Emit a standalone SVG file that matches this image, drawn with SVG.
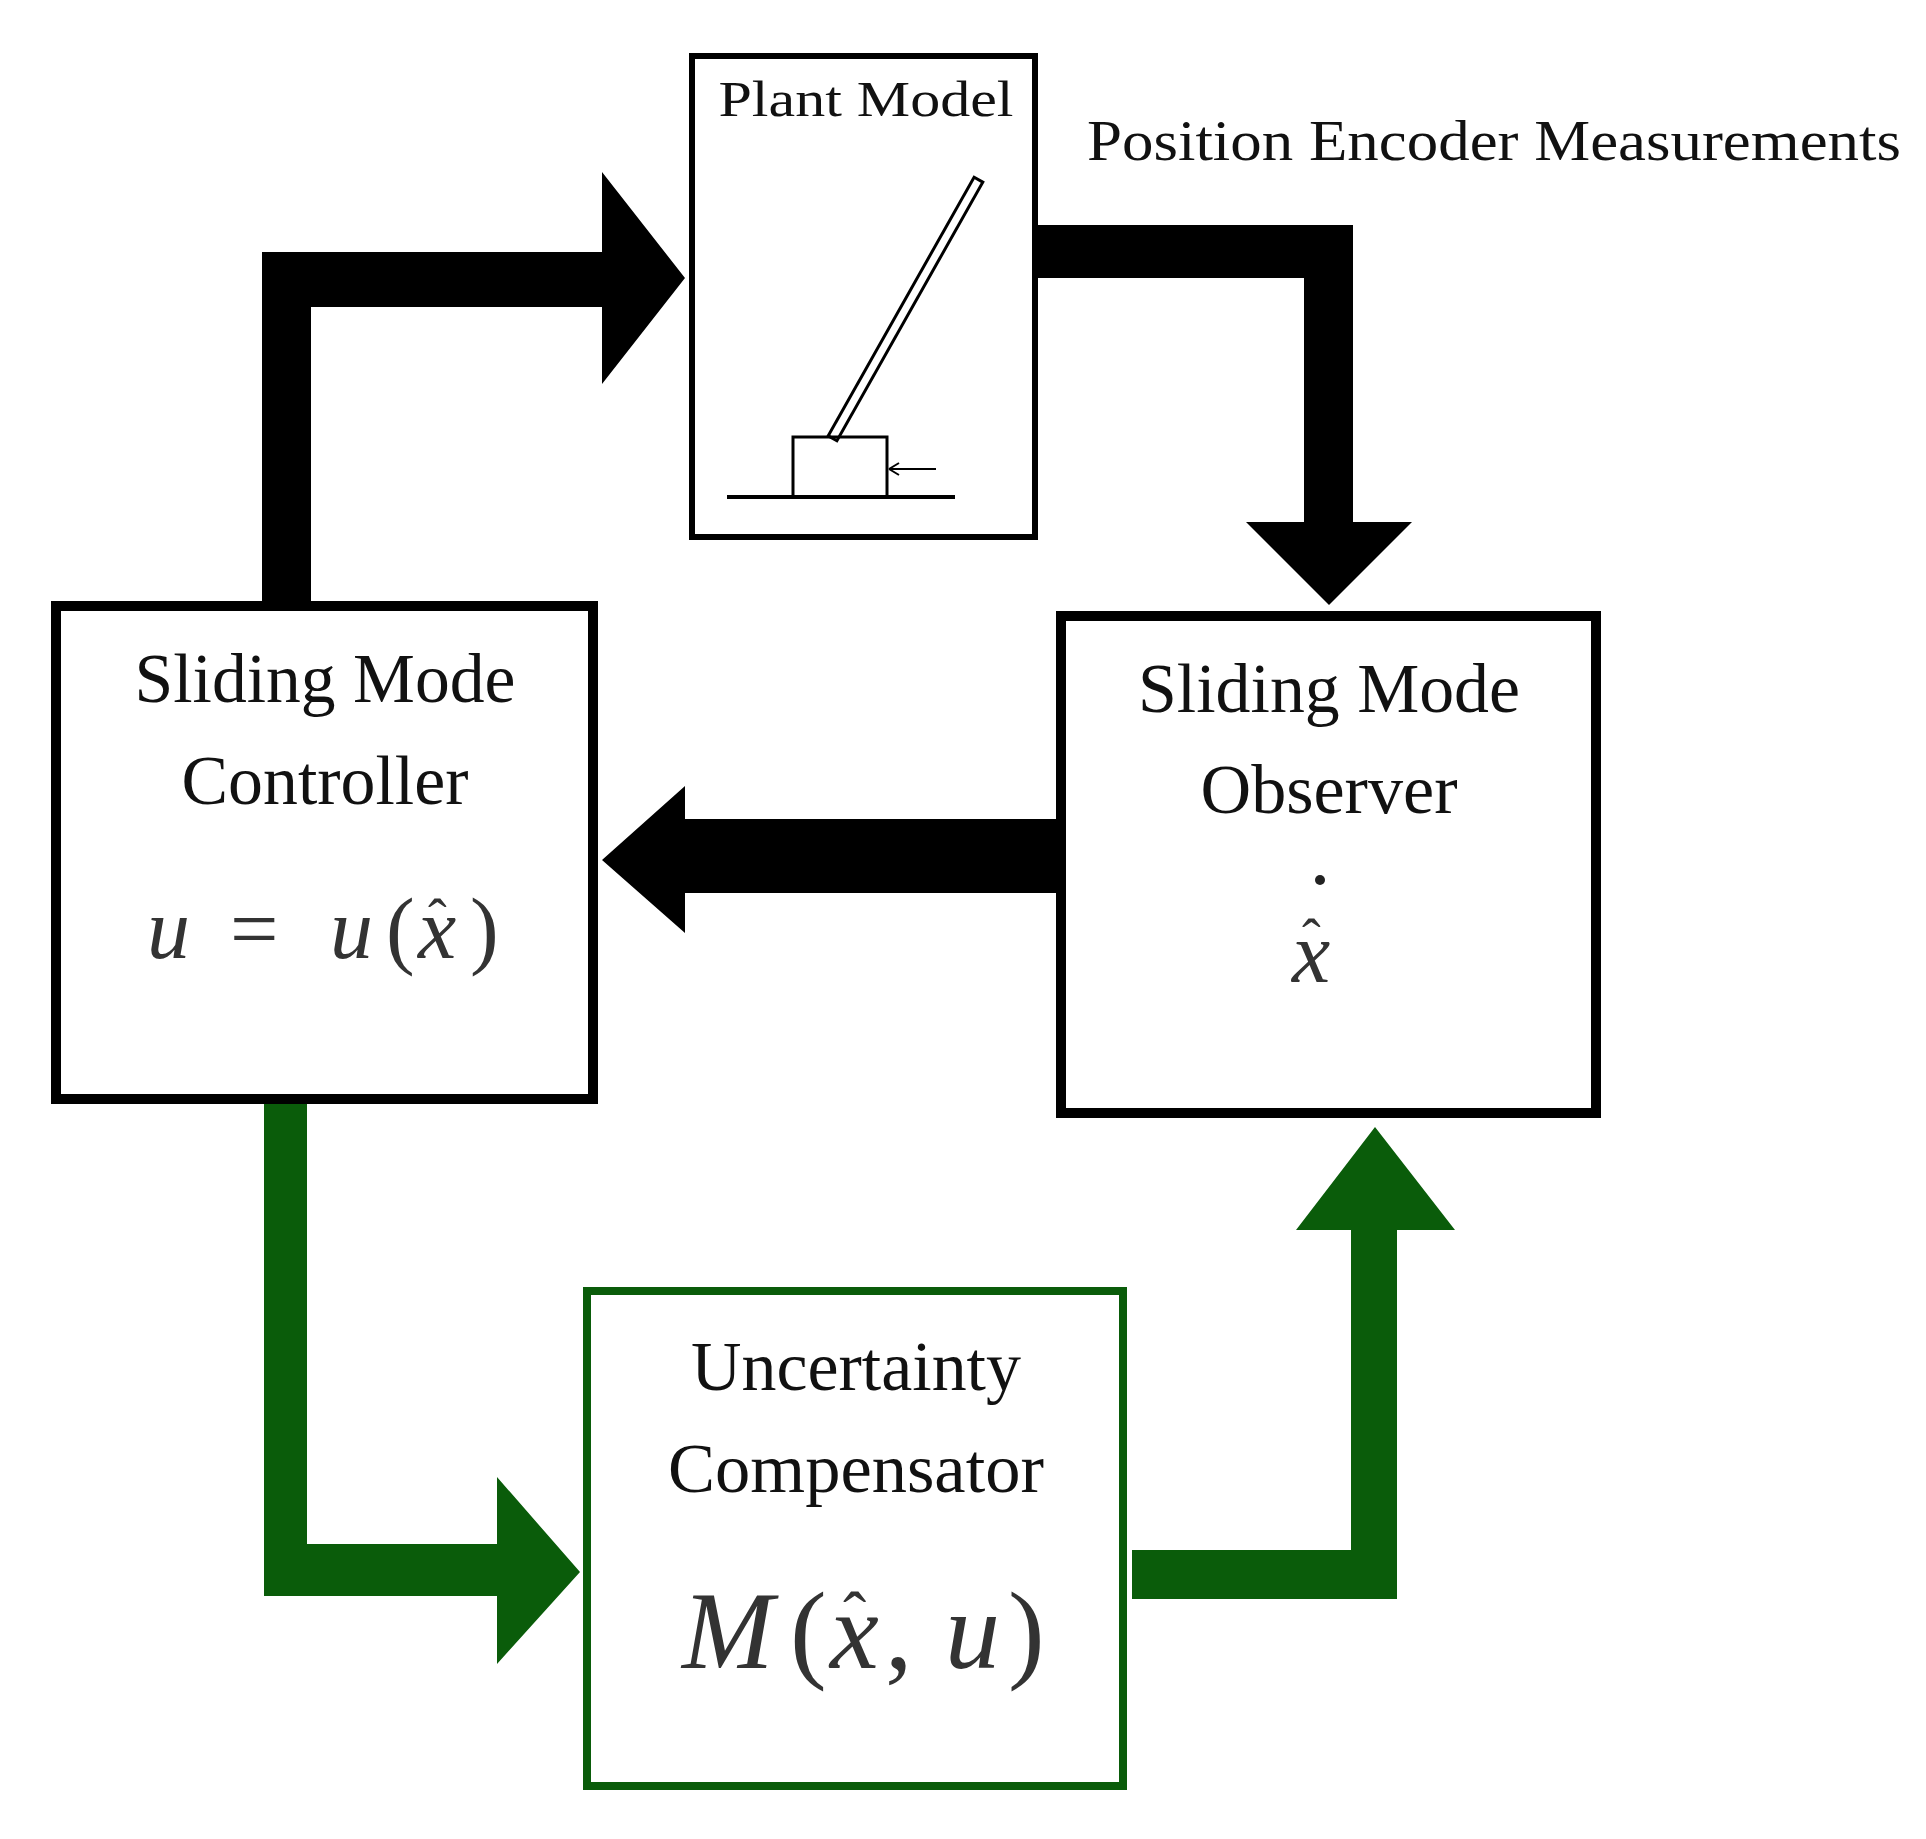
<svg xmlns="http://www.w3.org/2000/svg" width="1926" height="1839" viewBox="0 0 1926 1839">
<style>
.lbl{font-family:"Liberation Serif",serif;fill:#111;text-anchor:middle}
.math{font-family:"Liberation Serif",serif;font-style:italic;fill:#333}
.up{font-family:"Liberation Serif",serif;fill:#333}
.box{fill:#fff;stroke:#000}
.gbox{fill:#fff;stroke:#0a5c0a}
</style>
<rect width="1926" height="1839" fill="#fff"/>
<g id="connectors">
<path d="M262,602 V252 H602 V172 L685,278 L602,384 V307 H311 V602 Z" fill="#000"/>
<path d="M1038,225 H1353 V522 H1412 L1329,605 L1246,522 H1304 V278 H1038 Z" fill="#000"/>
<path d="M1056,819 V893 H685 V933 L602,860 L685,786 V819 Z" fill="#000"/>
<path d="M264,1103 H307 V1544 H497 V1477 L580,1572 L497,1664 V1596 H264 Z" fill="#0a5c0a"/>
<path d="M1132,1550 H1351 V1230 H1296 L1375,1127 L1455,1230 H1397 V1599 H1132 Z" fill="#0a5c0a"/>
</g>
<g id="plant">
<rect class="box" x="692" y="56" width="343" height="481" stroke-width="6"/>
<text class="lbl" x="866" y="116" font-size="50" textLength="295" lengthAdjust="spacingAndGlyphs">Plant Model</text>
<line x1="835" y1="434" x2="976" y2="184" stroke="#000" stroke-width="13" stroke-linecap="square"/>
<line x1="835" y1="434" x2="976" y2="184" stroke="#fff" stroke-width="7" stroke-linecap="square"/>
<rect x="793" y="437" width="94" height="60" fill="none" stroke="#000" stroke-width="3"/>
<line x1="727" y1="497" x2="955" y2="497" stroke="#000" stroke-width="4"/>
<line x1="889" y1="469" x2="936" y2="469" stroke="#000" stroke-width="2"/>
<path d="M889,469 l10,-6 M889,469 l10,6" stroke="#000" stroke-width="2" fill="none"/>
</g>
<g id="encoder-label">
<text class="lbl" x="1494" y="160" font-size="58" textLength="814" lengthAdjust="spacingAndGlyphs">Position Encoder Measurements</text>
</g>
<g id="controller">
<rect class="box" x="56" y="606" width="537" height="493" stroke-width="10"/>
<text class="lbl" x="325" y="702" font-size="70" textLength="381" lengthAdjust="spacingAndGlyphs">Sliding Mode</text>
<text class="lbl" x="325" y="804" font-size="70" textLength="287" lengthAdjust="spacingAndGlyphs">Controller</text>
<text class="math" x="147" y="958" font-size="86">u</text>
<text class="up" x="230" y="958" font-size="86">=</text>
<text class="math" x="330" y="958" font-size="86">u</text>
<text class="up" x="386" y="958" font-size="86">(</text>
<text class="math" x="418" y="958" font-size="86">x</text>
<text class="up" x="428" y="938" font-size="56">ˆ</text>
<text class="up" x="470" y="958" font-size="86">)</text>
</g>
<g id="observer">
<rect class="box" x="1061" y="616" width="535" height="497" stroke-width="10"/>
<text class="lbl" x="1329" y="712" font-size="70" textLength="382" lengthAdjust="spacingAndGlyphs">Sliding Mode</text>
<text class="lbl" x="1329" y="813" font-size="70" textLength="257" lengthAdjust="spacingAndGlyphs">Observer</text>
<text class="math" x="1292" y="982" font-size="86">x</text>
<text class="up" x="1302" y="958" font-size="56">ˆ</text>
<circle cx="1320" cy="880" r="5" fill="#222"/>
</g>
<g id="compensator">
<rect class="gbox" x="587" y="1291" width="536" height="495" stroke-width="8"/>
<text class="lbl" x="856" y="1390" font-size="70" textLength="330" lengthAdjust="spacingAndGlyphs">Uncertainty</text>
<text class="lbl" x="856" y="1492" font-size="70" textLength="376" lengthAdjust="spacingAndGlyphs">Compensator</text>
<text class="math" x="682" y="1668" font-size="110">M</text>
<text class="up" x="790" y="1668" font-size="110">(</text>
<text class="math" x="830" y="1668" font-size="110">x</text>
<text class="up" x="843" y="1640" font-size="70">ˆ</text>
<text class="up" x="885" y="1668" font-size="110">,</text>
<text class="math" x="945" y="1668" font-size="110">u</text>
<text class="up" x="1008" y="1668" font-size="110">)</text>
</g>
</svg>
